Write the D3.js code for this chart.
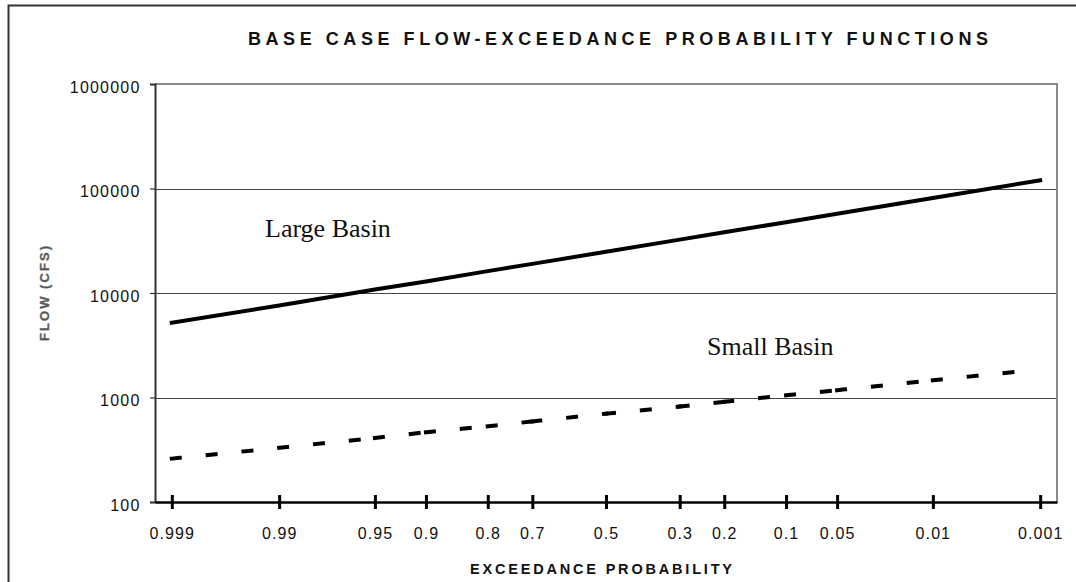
<!DOCTYPE html>
<html>
<head>
<meta charset="utf-8">
<script src="https://cdn.jsdelivr.net/npm/d3@7"></script>
<style>
  body { margin: 0; background: #fff; }
  svg { display: block; }
</style>
</head>
<body>
<script>
const width = 1076;
const height = 582;

// exceedance probabilities (x categories on a normal probability axis)
const probs = [0.999, 0.99, 0.95, 0.9, 0.8, 0.7, 0.5, 0.3, 0.2, 0.1, 0.05, 0.01, 0.001];
const probLabels = ["0.999", "0.99", "0.95", "0.9", "0.8", "0.7", "0.5", "0.3", "0.2", "0.1", "0.05", "0.01", "0.001"];

// flows (cfs)
const largeBasin = [5200, 7600, 10800, 12900, 16200, 19000, 24800, 32400, 38100, 47600, 57300, 81100, 119700];
const smallBasin = [260, 330, 410, 465, 530, 590, 700, 820, 910, 1050, 1175, 1460, 1860];

const yTicks = [100, 1000, 10000, 100000, 1000000];

// inverse standard normal (Acklam)
function qnorm(p) {
  const a = [-3.969683028665376e+01, 2.209460984245205e+02, -2.759285104469687e+02, 1.383577518672690e+02, -3.066479806614716e+01, 2.506628277459239e+00];
  const b = [-5.447609879822406e+01, 1.615858368580409e+02, -1.556989798598866e+02, 6.680131188771972e+01, -1.328068155288572e+01];
  const c = [-7.784894002430293e-03, -3.223964580411365e-01, -2.400758277161838e+00, -2.549732539343734e+00, 4.374664141464968e+00, 2.938163982698783e+00];
  const d = [7.784695709041462e-03, 3.224671290700398e-01, 2.445134137142996e+00, 3.754408661907416e+00];
  const pl = 0.02425;
  if (p < pl) {
    const q = Math.sqrt(-2 * Math.log(p));
    return (((((c[0]*q+c[1])*q+c[2])*q+c[3])*q+c[4])*q+c[5]) / ((((d[0]*q+d[1])*q+d[2])*q+d[3])*q+1);
  }
  if (p <= 1 - pl) {
    const q = p - 0.5, r = q * q;
    return (((((a[0]*r+a[1])*r+a[2])*r+a[3])*r+a[4])*r+a[5])*q / (((((b[0]*r+b[1])*r+b[2])*r+b[3])*r+b[4])*r+1);
  }
  const q = Math.sqrt(-2 * Math.log(1 - p));
  return -(((((c[0]*q+c[1])*q+c[2])*q+c[3])*q+c[4])*q+c[5]) / ((((d[0]*q+d[1])*q+d[2])*q+d[3])*q+1);
}

const plot = { left: 155, right: 1057, top: 84, bottom: 502 };
const sans = "Arial, 'Liberation Sans', sans-serif";
const serif = "'Times New Roman', 'Liberation Serif', serif";

const zScale = d3.scaleLinear()
  .domain([3.21, -3.21])
  .range([plot.left, plot.right]);
const x = p => zScale(qnorm(p));

const y = d3.scaleLog()
  .domain([100, 1000000])
  .range([plot.bottom, plot.top]);

const svg = d3.select("body")
  .append("svg")
  .attr("width", width)
  .attr("height", height);

// outer chart frame (runs off the right and bottom of the picture)
svg.append("rect")
  .attr("x", 8.5).attr("y", 5.5)
  .attr("width", width + 20).attr("height", height + 20)
  .attr("fill", "none")
  .attr("stroke", "#333")
  .attr("stroke-width", 2);

// title
svg.append("text")
  .attr("x", 248).attr("y", 45)
  .attr("textLength", 740)
  .attr("lengthAdjust", "spacing")
  .style("font-family", sans)
  .style("font-size", "18px")
  .style("font-weight", "bold")
  .attr("fill", "#111")
  .text("BASE CASE FLOW-EXCEEDANCE PROBABILITY FUNCTIONS");

// gridlines
svg.append("g")
  .selectAll("line")
  .data(yTicks.filter(t => t > 100 && t < 1000000))
  .enter().append("line")
  .attr("x1", plot.left).attr("x2", plot.right)
  .attr("y1", d => Math.round(y(d)) + 0.5)
  .attr("y2", d => Math.round(y(d)) + 0.5)
  .attr("stroke", "#444")
  .attr("stroke-width", 1);

// plot border top / right
svg.append("path")
  .attr("d", `M${plot.left},${plot.top}H${plot.right}V${plot.bottom}`)
  .attr("fill", "none")
  .attr("stroke", "#8a8a8a")
  .attr("stroke-width", 2);

// y axis
const yAxis = svg.append("g")
  .attr("transform", `translate(${plot.left},0)`)
  .call(d3.axisLeft(y).tickValues(yTicks).tickFormat(d3.format("d")).tickSize(5));
yAxis.select(".domain").attr("stroke", "#333").attr("stroke-width", 2);
yAxis.selectAll(".tick line").attr("stroke", "#333").attr("stroke-width", 1.2);
yAxis.selectAll(".tick text")
  .attr("x", -14.5)
  .attr("dy", "0.5em")
  .style("font-family", sans)
  .style("font-size", "16px")
  .style("letter-spacing", "1.2px")
  .attr("fill", "#111");

// x axis
const xAxis = svg.append("g")
  .attr("transform", `translate(0,${plot.bottom})`)
  .call(d3.axisBottom(zScale)
    .tickValues(probs.map(qnorm))
    .tickFormat((d, i) => probLabels[i])
    .tickSizeOuter(0));
xAxis.select(".domain").attr("stroke", "#000").attr("stroke-width", 2.5);
xAxis.selectAll(".tick line")
  .attr("y1", -7).attr("y2", 7)
  .attr("stroke", "#000").attr("stroke-width", 3);
xAxis.selectAll(".tick text")
  .attr("y", 37).attr("dy", null)
  .style("font-family", sans)
  .style("font-size", "16px")
  .style("letter-spacing", "1.1px")
  .attr("fill", "#111");

// axis titles
svg.append("text")
  .attr("x", 470).attr("y", 574)
  .attr("textLength", 262)
  .attr("lengthAdjust", "spacing")
  .style("font-family", sans)
  .style("font-size", "14.5px")
  .style("font-weight", "bold")
  .attr("fill", "#111")
  .text("EXCEEDANCE PROBABILITY");

svg.append("text")
  .attr("transform", "translate(49,341) rotate(-90)")
  .attr("textLength", 95)
  .attr("lengthAdjust", "spacing")
  .style("font-family", sans)
  .style("font-size", "13px")
  .style("font-weight", "bold")
  .attr("fill", "#555")
  .attr("stroke", "#777")
  .attr("stroke-width", 0.4)
  .text("FLOW (CFS)");

// large basin: solid line
const line = d3.line()
  .x(d => x(d[0]))
  .y(d => y(d[1]));

svg.append("path")
  .datum(largeBasin.map((v, i) => [probs[i], v]))
  .attr("d", line)
  .attr("fill", "none")
  .attr("stroke", "#000")
  .attr("stroke-width", 4)
  .attr("stroke-linecap", "square");

// small basin: dashed, pattern restarts at each point
svg.append("g")
  .selectAll("path")
  .data(d3.pairs(smallBasin.map((v, i) => [probs[i], v])))
  .enter().append("path")
  .attr("d", line)
  .attr("fill", "none")
  .attr("stroke", "#000")
  .attr("stroke-width", 4)
  .attr("stroke-linecap", "square")
  .attr("stroke-dasharray", "8,28");

// series labels
svg.append("text")
  .attr("x", 265).attr("y", 237)
  .style("font-family", serif)
  .style("font-size", "26px")
  .attr("fill", "#111")
  .text("Large Basin");

svg.append("text")
  .attr("x", 707).attr("y", 355)
  .style("font-family", serif)
  .style("font-size", "26px")
  .attr("fill", "#111")
  .text("Small Basin");
</script>
</body>
</html>
